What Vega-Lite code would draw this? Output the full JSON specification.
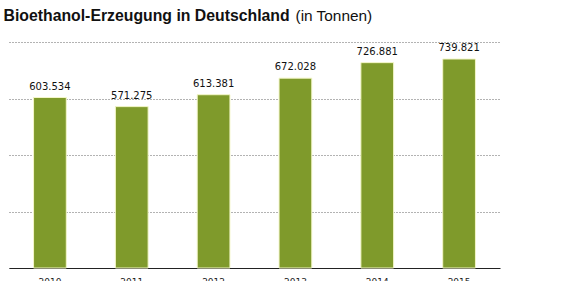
{
  "$schema": "https://vega.github.io/schema/vega-lite/v6.json",
  "width": 491,
  "height": 226,
  "autosize": {"type": "none"},
  "padding": {"left": 9, "top": 42, "right": 83, "bottom": 13},
  "background": "white",
  "config": {
    "locale": {"number": {"decimal": ",", "thousands": ".", "grouping": [3], "currency": ["", " €"]}},
    "view": {"stroke": null},
    "font": "Liberation Sans"
  },
  "data": {
    "values": [
      {"Jahr": "2010", "Tonnen": 603534},
      {"Jahr": "2011", "Tonnen": 571275},
      {"Jahr": "2012", "Tonnen": 613381},
      {"Jahr": "2013", "Tonnen": 672028},
      {"Jahr": "2014", "Tonnen": 726881},
      {"Jahr": "2015", "Tonnen": 739821}
    ]
  },
  "encoding": {
    "x": {
      "field": "Jahr",
      "type": "nominal",
      "scale": {"paddingInner": 0.6, "paddingOuter": 0.3},
      "axis": {
        "title": null,
        "labelAngle": 0,
        "domainColor": "#222222",
        "domainWidth": 1.2,
        "ticks": false,
        "labelPadding": 9,
        "labelFont": "DejaVu Sans",
        "labelFontSize": 9,
        "labelColor": "#222222"
      }
    }
  },
  "layer": [
    {
      "mark": {"type": "bar", "color": "#7f9a2b", "stroke": "#f3f6c8", "strokeWidth": 1},
      "encoding": {
        "y": {
          "field": "Tonnen",
          "type": "quantitative",
          "scale": {"domain": [0, 800000]},
          "axis": {
            "values": [0, 200000, 400000, 600000, 800000],
            "labels": false,
            "ticks": false,
            "domain": false,
            "gridColor": "#666666",
            "gridDash": [1, 2],
            "gridWidth": 1,
            "title": "Bioethanol-Erzeugung in Deutschland",
            "titleAngle": 0,
            "titleAlign": "left",
            "titleBaseline": "alphabetic",
            "titleFont": "Liberation Sans",
            "titleFontSize": 15.8,
            "titleFontWeight": "bold",
            "titleColor": "#111111",
            "titleX": -6,
            "titleY": -22
          }
        }
      }
    },
    {
      "mark": {"type": "text", "baseline": "alphabetic", "dy": -8, "font": "DejaVu Sans", "fontSize": 10, "color": "#111111"},
      "encoding": {
        "y": {
          "field": "Tonnen",
          "type": "quantitative",
          "scale": {"domain": [0, 800000]},
          "axis": {
            "orient": "right",
            "grid": false,
            "labels": false,
            "ticks": false,
            "domain": false,
            "title": "(in Tonnen)",
            "titleAngle": 0,
            "titleAlign": "left",
            "titleBaseline": "alphabetic",
            "titleFont": "Liberation Sans",
            "titleFontSize": 15.4,
            "titleFontWeight": "normal",
            "titleColor": "#111111",
            "titleX": -205,
            "titleY": -22
          }
        },
        "text": {"field": "Tonnen", "type": "quantitative", "format": ",d"}
      }
    }
  ],
  "resolve": {"axis": {"y": "independent"}}
}
